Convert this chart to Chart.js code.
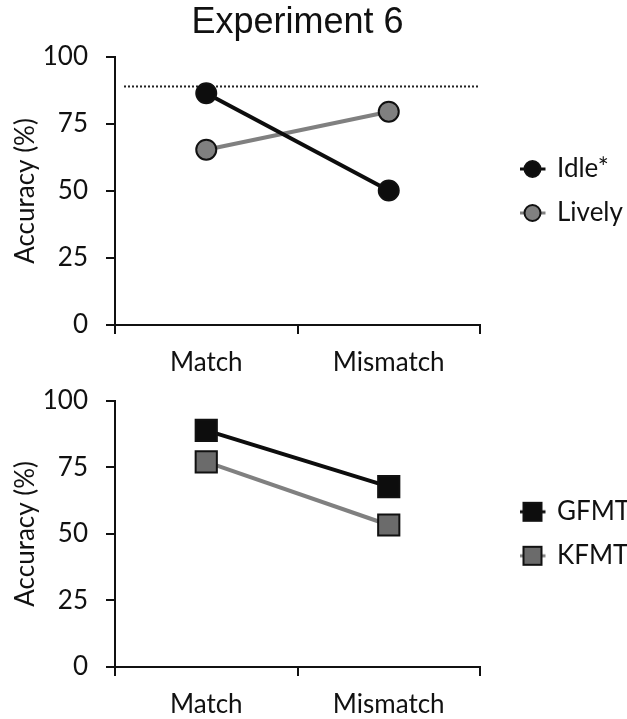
<!DOCTYPE html>
<html lang="en">
<head>
<meta charset="UTF-8" />
<title>Experiment 6</title>
<script src="https://cdn.jsdelivr.net/npm/chart.js"></script>
<style>
  body { margin: 0; background: #fff; }
  #wrap { width: 627px; height: 719px; position: relative; }
  canvas { display: block; position: absolute; left: 0; }
  #topChart { top: 0; }
  #bottomChart { top: 367px; }
</style>
</head>
<body>
<div id="wrap">
  <canvas id="topChart" width="627" height="381"></canvas>
  <canvas id="bottomChart" width="627" height="352"></canvas>
</div>
<script>
const categories = ['Match', 'Mismatch'];
const idleAcc = [86.5, 50.2];
const livelyAcc = [65.4, 79.6];
const gfmtAcc = [88.8, 67.7];
const kfmtAcc = [77.0, 53.3];
const dottedRef = [89];
const yTickValues = [0, 25, 50, 75, 100];

const FONT = 'Lato, "Open Sans", sans-serif';
const INK = '#111';
const PAD_LEFT = 6;
// where the plot box should sit in both panels
const PLOT_LEFT = 115, PLOT_RIGHT = 480;

// legend marker: short line stub with the point shape on it
function legendIcon(shape, fill, line) {
  const c = document.createElement('canvas');
  c.width = 50; c.height = 22;
  const g = c.getContext('2d');
  const cx = 36.5, cy = 11;
  g.strokeStyle = line; g.lineWidth = 3;
  g.beginPath(); g.moveTo(24, cy); g.lineTo(49.5, cy); g.stroke();
  g.fillStyle = fill; g.strokeStyle = INK; g.lineWidth = 2;
  g.beginPath();
  if (shape === 'circle') g.arc(cx, cy, 8, 0, Math.PI * 2);
  else g.rect(cx - 9, cy - 9, 18, 18);
  g.fill(); g.stroke();
  return c;
}

const refLinePlugin = {
  id: 'refLine',
  beforeDatasetsDraw(chart, args, opts) {
    if (!opts.values) return;
    const { ctx, chartArea, scales: { y } } = chart;
    ctx.save();
    ctx.strokeStyle = '#222';
    ctx.lineWidth = 2;
    ctx.setLineDash([2, 2]);
    opts.values.forEach(v => {
      const py = y.getPixelForValue(v);
      ctx.beginPath();
      ctx.moveTo(chartArea.left + 9, py);
      ctx.lineTo(chartArea.right, py);
      ctx.stroke();
    });
    ctx.restore();
  }
};

function makeChart(id, series, opts) {
  const icons = series.map(s => legendIcon(s.shape, s.fill, s.line));
  const chart = new Chart(document.getElementById(id), {
    type: 'line',
    data: {
      labels: categories,
      datasets: series.map(s => ({
        label: s.label,
        data: s.data,
        borderColor: s.line,
        borderWidth: 4,
        pointStyle: s.shape,
        pointRadius: s.radius,
        pointHoverRadius: s.radius,
        pointBackgroundColor: s.fill,
        pointBorderColor: INK,
        pointBorderWidth: 2,
        tension: 0
      }))
    },
    options: {
      responsive: false,
      animation: false,
      events: [],
      layout: { padding: { top: opts.padTop, right: 0, left: PAD_LEFT, bottom: 0 } },
      scales: {
        x: {
          offset: true,
          grid: { offset: true, drawOnChartArea: false, tickLength: 9, color: INK, lineWidth: 2 },
          border: { color: INK, width: 2 },
          ticks: { padding: 13, color: INK, font: { family: FONT, size: 26 } },
          afterFit: s => { s.height = opts.xHeight; }
        },
        y: {
          min: 0,
          max: 100,
          afterBuildTicks: s => { s.ticks = yTickValues.map(v => ({ value: v })); },
          grid: { drawOnChartArea: false, tickLength: 9, color: INK, lineWidth: 2 },
          border: { color: INK, width: 2 },
          ticks: { padding: 18, color: INK, font: { family: FONT, size: 26 } },
          title: {
            display: true, text: 'Accuracy (%)', color: INK,
            font: { family: FONT, size: 26 }, padding: { top: 4, bottom: 0 }
          },
          afterFit: s => { s.width = PLOT_LEFT - PAD_LEFT; }
        }
      },
      plugins: {
        title: opts.title ? {
          display: true, text: opts.title, fullSize: false, color: INK,
          font: { family: '"Liberation Sans", Arial, sans-serif', size: 36, weight: 'normal' },
          padding: { top: 1, bottom: 12 }
        } : { display: false },
        legend: {
          position: 'right',
          fullSize: false,
          align: 'center',
          maxWidth: 627 - PLOT_RIGHT,
          labels: {
            usePointStyle: true,
            pointStyleWidth: 46,
            padding: 18,
            color: INK,
            font: { family: FONT, size: 26 },
            generateLabels(c) {
              const items = Chart.defaults.plugins.legend.labels.generateLabels(c);
              items.forEach((it, i) => { it.pointStyle = icons[i]; });
              return items;
            }
          }
        },
        tooltip: { enabled: false },
        refLine: { values: opts.refValues }
      }
    },
    plugins: [refLinePlugin]
  });
  // nudge the outer padding so both panels share the same plot box
  const pad = chart.options.layout.padding;
  pad.right += Math.max(0, chart.chartArea.right - PLOT_RIGHT);
  pad.top += Math.max(0, opts.plotTop - chart.chartArea.top);
  chart.update('none');
  return chart;
}

makeChart('topChart', [
  { label: 'Idle*', data: idleAcc, shape: 'circle', radius: 10, fill: '#0d0d0d', line: '#0d0d0d' },
  { label: 'Lively', data: livelyAcc, shape: 'circle', radius: 10, fill: '#808080', line: '#808080' }
], { title: 'Experiment 6', padTop: 0, plotTop: 57, xHeight: 56, refValues: dottedRef });

makeChart('bottomChart', [
  { label: 'GFMT', data: gfmtAcc, shape: 'rect', radius: 15, fill: '#0d0d0d', line: '#0d0d0d' },
  { label: 'KFMT', data: kfmtAcc, shape: 'rect', radius: 15, fill: '#6b6b6b', line: '#808080' }
], { title: null, padTop: 0, plotTop: 33, xHeight: 52, refValues: null });
</script>
</body>
</html>
